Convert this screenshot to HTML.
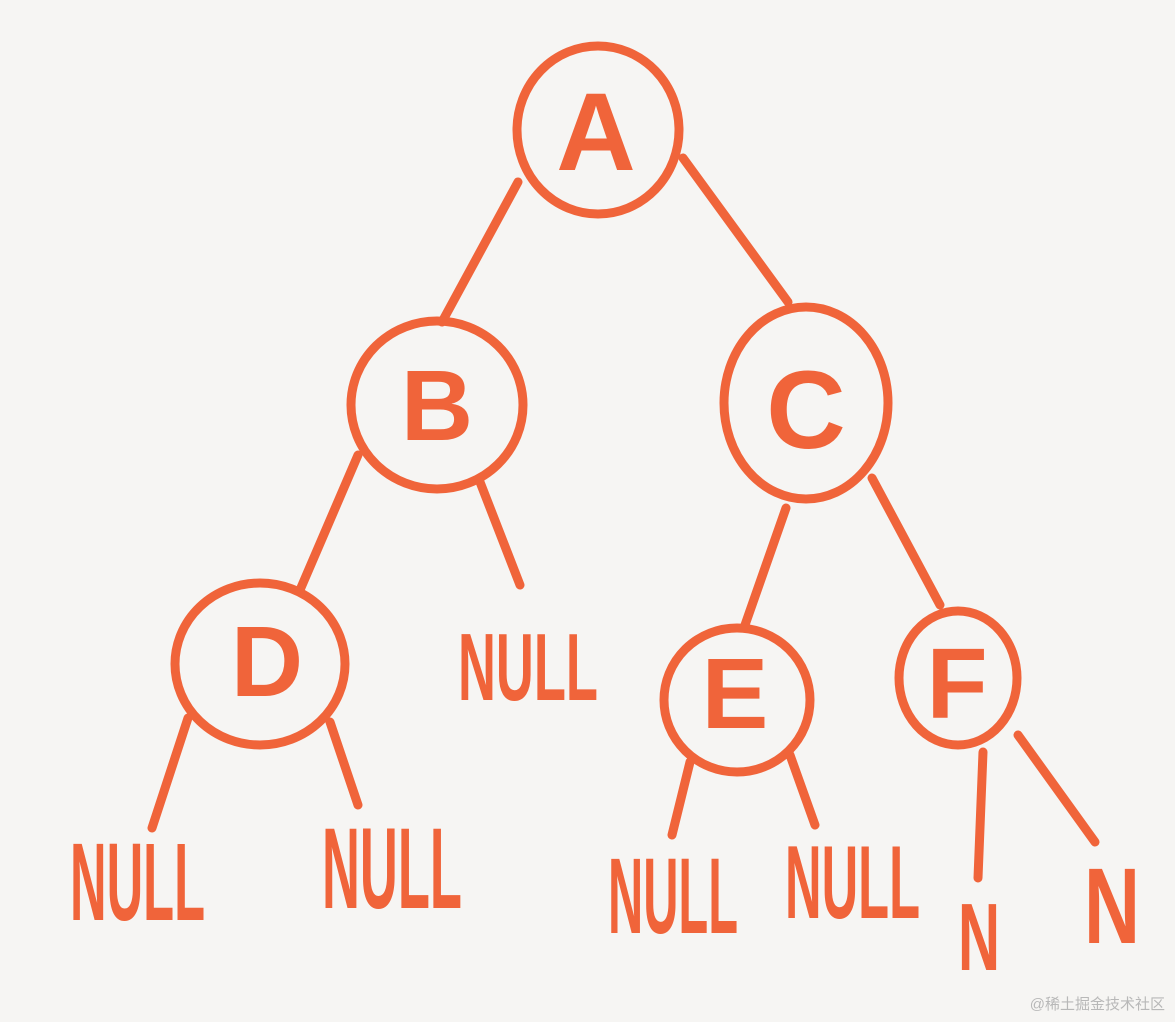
<!DOCTYPE html>
<html><head><meta charset="utf-8"><style>
html,body{margin:0;padding:0;background:#f6f5f3;}
svg{display:block}
</style></head><body>
<svg width="1175" height="1022" viewBox="0 0 1175 1022" xmlns="http://www.w3.org/2000/svg">
<rect width="1175" height="1022" fill="#f6f5f3"/>
<g fill="none" stroke="#f0643a" stroke-width="9" stroke-linecap="round">
<ellipse cx="598" cy="130" rx="81" ry="84"/>
<ellipse cx="437" cy="405" rx="86" ry="84"/>
<ellipse cx="806" cy="403" rx="82" ry="96"/>
<ellipse cx="260" cy="664" rx="85" ry="81"/>
<ellipse cx="737" cy="700" rx="73" ry="72"/>
<ellipse cx="958" cy="678" rx="59" ry="67"/>
<line x1="518" y1="182" x2="442" y2="322"/>
<line x1="683" y1="158" x2="788" y2="302"/>
<line x1="358" y1="455" x2="300" y2="590"/>
<line x1="480" y1="482" x2="520" y2="585"/>
<line x1="786" y1="508" x2="745" y2="625"/>
<line x1="872" y1="478" x2="940" y2="605"/>
<line x1="188" y1="718" x2="152" y2="828"/>
<line x1="330" y1="722" x2="358" y2="805"/>
<line x1="690" y1="762" x2="672" y2="835"/>
<line x1="790" y1="755" x2="815" y2="825"/>
<line x1="983" y1="752" x2="978" y2="878"/>
<line x1="1018" y1="735" x2="1095" y2="842"/>
</g>
<g fill="#f0643a" font-family="Liberation Sans, sans-serif" font-weight="bold" text-anchor="middle">
<text x="596" y="170" font-size="110">A</text>
<text x="437" y="440" font-size="100">B</text>
<text x="806" y="448" font-size="110">C</text>
<text x="267" y="696" font-size="100">D</text>
<text x="735" y="728" font-size="100">E</text>
<text x="957" y="718" font-size="100">F</text>
</g>
<g fill="#f0643a" font-family="Liberation Sans, sans-serif" font-weight="bold">
<text x="458" y="700" font-size="96" textLength="140" lengthAdjust="spacingAndGlyphs">NULL</text>
<text x="70" y="920" font-size="110" textLength="135" lengthAdjust="spacingAndGlyphs">NULL</text>
<text x="322" y="908" font-size="115" textLength="140" lengthAdjust="spacingAndGlyphs">NULL</text>
<text x="608" y="933" font-size="108" textLength="130" lengthAdjust="spacingAndGlyphs">NULL</text>
<text x="785" y="918" font-size="104" textLength="135" lengthAdjust="spacingAndGlyphs">NULL</text>
<text x="958" y="970" font-size="96" textLength="42" lengthAdjust="spacingAndGlyphs">N</text>
<text x="1084" y="943" font-size="108" textLength="56" lengthAdjust="spacingAndGlyphs">N</text>
</g>
<text x="1165" y="1009" text-anchor="end" font-size="15" fill="#b8b8b8" font-family="Liberation Sans, 'Noto Sans CJK SC', sans-serif">@稀土掘金技术社区</text>
</svg>
</body></html>
